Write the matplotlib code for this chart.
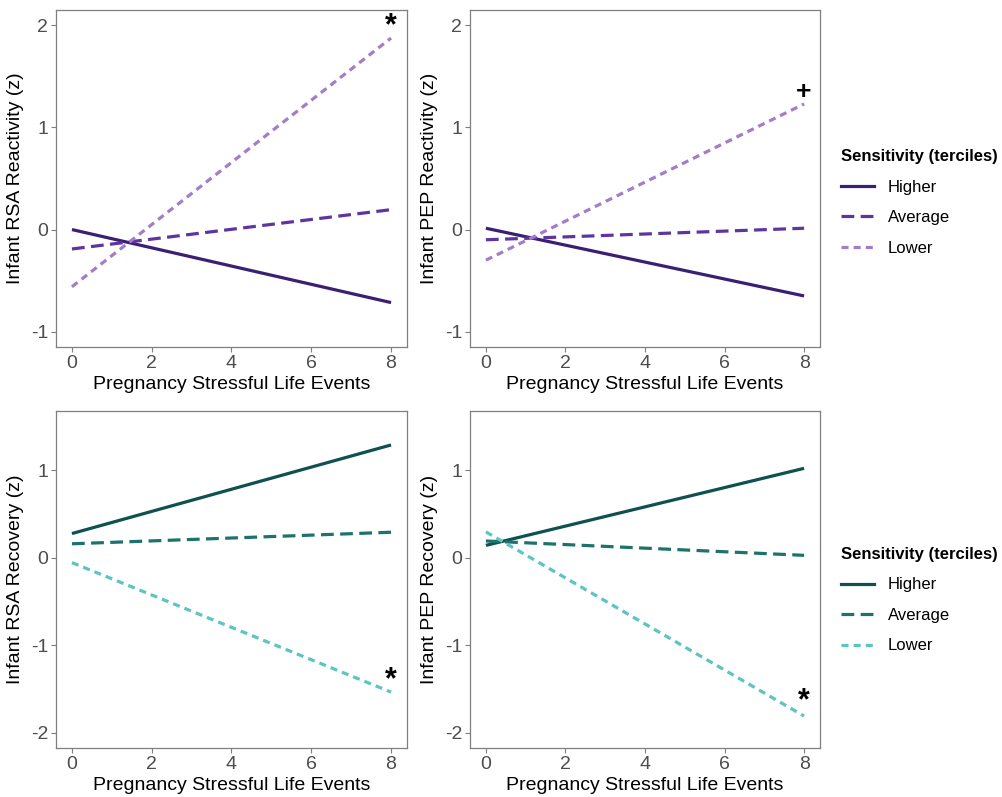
import numpy as np
import matplotlib.pyplot as plt
from matplotlib.lines import Line2D

plt.rcParams['font.family'] = ['Liberation Sans', 'DejaVu Sans']
plt.rcParams['axes.unicode_minus'] = False

# data (line ends at 0 and 8 stressful life events)
x_ends = [0, 8]
groups = ['Higher', 'Average', 'Lower']

rsa_react = {'Higher': [0.0, -0.715], 'Average': [-0.19, 0.195], 'Lower': [-0.56, 1.875]}
pep_react = {'Higher': [0.013, -0.65], 'Average': [-0.10, 0.013], 'Lower': [-0.30, 1.23]}
rsa_recov = {'Higher': [0.275, 1.287], 'Average': [0.158, 0.29], 'Lower': [-0.057, -1.536]}
pep_recov = {'Higher': [0.14, 1.02], 'Average': [0.19, 0.026], 'Lower': [0.294, -1.81]}

ylabels = ['Infant RSA Reactivity (z)', 'Infant PEP Reactivity (z)',
           'Infant RSA Recovery (z)', 'Infant PEP Recovery (z)']
marks = [('*', 1.99), ('+', 1.35), ('*', -1.40), ('*', -1.64)]

purples = {'Higher': '#3a1f73', 'Average': '#5e35a0', 'Lower': '#a47dc8'}
teals = {'Higher': '#0f514f', 'Average': '#1d716e', 'Lower': '#5cc5c2'}
styles = {'Higher': '-', 'Average': (0, (4, 2)), 'Lower': (0, (2.2, 1.6))}

W, H = 1003, 797
fig = plt.figure(figsize=(W / 100, H / 100), dpi=100)

def px_axes(x0, y0, x1, y1):
    return fig.add_axes([x0 / W, 1 - y1 / H, (x1 - x0) / W, (y1 - y0) / H])

boxes = [(56, 10, 407, 347), (470, 10, 820, 347),
         (56, 411, 407, 748), (470, 411, 820, 748)]
datasets = [rsa_react, pep_react, rsa_recov, pep_recov]

for i, (box, data) in enumerate(zip(boxes, datasets)):
    ax = px_axes(*box)
    cols = purples if i < 2 else teals
    for g in groups:
        ax.plot(x_ends, data[g], color=cols[g], linestyle=styles[g], lw=2.3,
                solid_capstyle='butt', dash_capstyle='butt', label=g)
    ax.set_xlim(-0.4, 8.4)
    ax.set_xticks([0, 2, 4, 6, 8])
    if i < 2:
        ax.set_ylim(-1.15, 2.15)
        ax.set_yticks([-1, 0, 1, 2])
    else:
        ax.set_ylim(-2.175, 1.675)
        ax.set_yticks([-2, -1, 0, 1])
    ax.set_xlabel('Pregnancy Stressful Life Events', fontsize=14, labelpad=3)
    ax.set_ylabel(ylabels[i], fontsize=14, labelpad=5)
    ax.tick_params(colors='#7f7f7f', labelcolor='#4d4d4d', labelsize=14,
                   length=3.5, width=0.8, pad=2)
    for s in ax.spines.values():
        s.set_color('#7f7f7f')
        s.set_linewidth(0.9)
    sym, yv = marks[i]
    ax.text(8, yv, sym, fontsize=22 if sym == '*' else 19, fontweight='bold',
            ha='center', va='center', color='black')

    if i in (1, 3):
        handles = [Line2D([], [], color=cols[g], linestyle=styles[g], lw=2.3) for g in groups]
        ytop = 134 if i == 1 else 532
        leg = fig.legend(handles, groups, loc='upper left',
                         bbox_to_anchor=(826 / W, 1 - ytop / H), frameon=False,
                         title='Sensitivity (terciles)', fontsize=12,
                         title_fontproperties={'weight': 'bold', 'size': 12},
                         handlelength=2.0, labelspacing=0.93, handletextpad=0.8)
        leg._legend_box.align = 'left'

fig.savefig('out.png', dpi=100)
